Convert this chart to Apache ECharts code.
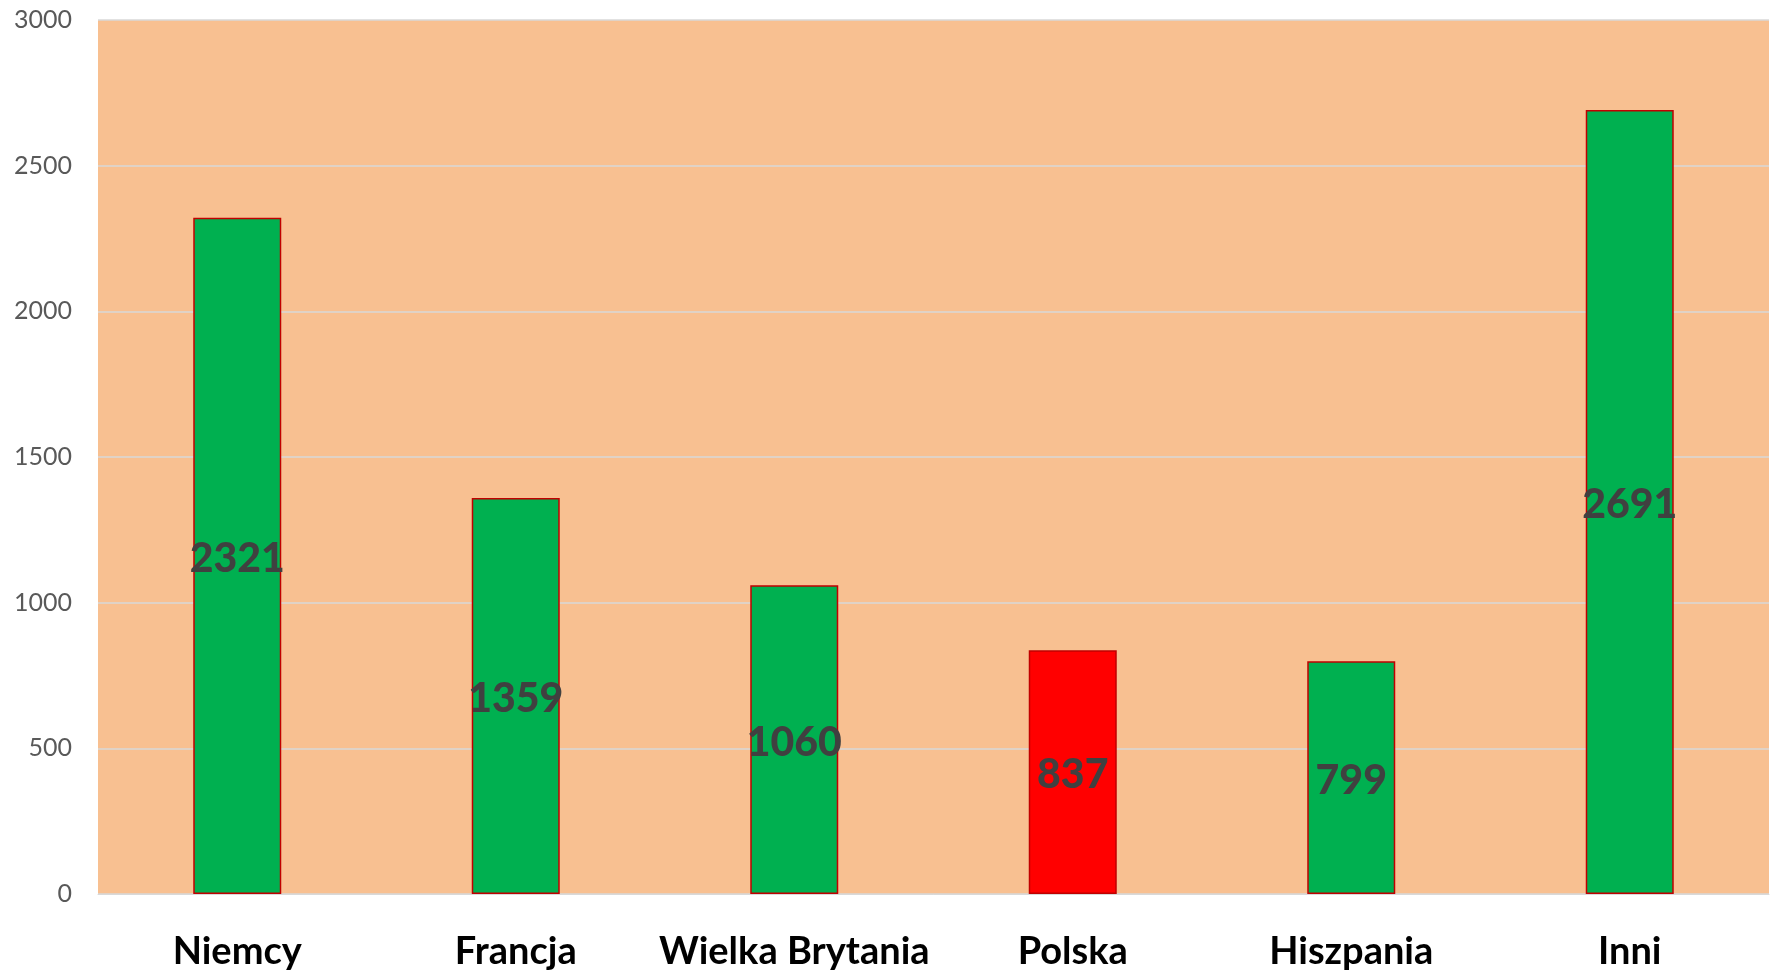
<!DOCTYPE html>
<html>
<head>
<meta charset="utf-8">
<script src="https://cdn.jsdelivr.net/npm/echarts@6/dist/echarts.min.js"></script>
<style>
  html, body { margin: 0; padding: 0; background: #fff; }
  #chart { width: 1771px; height: 971px; }
</style>
</head>
<body>
<div id="chart"></div>
<script>
const countries = ['Niemcy', 'Francja', 'Wielka Brytania', 'Polska', 'Hiszpania', 'Inni'];
const values = [2321, 1359, 1060, 837, 799, 2691];
const barColors = ['#00B050', '#00B050', '#00B050', '#FF0000', '#00B050', '#00B050'];
const yTicks = [0, 500, 1000, 1500, 2000, 2500, 3000];

const chart = echarts.init(document.getElementById('chart'));

const option = {
    animation: false,
    grid: {
        left: 98,
        right: 2,
        top: 20,
        bottom: 75,
        show: true,
        backgroundColor: '#F8C091',
        borderWidth: 0
    },
    xAxis: {
        type: 'category',
        data: countries,
        axisLine: { lineStyle: { color: '#D9D9D9', width: 1 } },
        axisTick: { show: false },
        axisLabel: {
            interval: 0,
            margin: 39,
            fontFamily: 'Lato',
            fontWeight: 'bold',
            fontSize: 38,
            color: '#000000'
        }
    },
    yAxis: {
        type: 'value',
        min: yTicks[0],
        max: yTicks[yTicks.length - 1],
        interval: 500,
        axisLine: { show: false },
        axisTick: { show: false },
        splitLine: { lineStyle: { color: '#D9D9D9', width: 1.5 } },
        axisLabel: {
            margin: 26,
            fontFamily: 'Lato',
            fontSize: 25,
            color: '#595959',
            formatter: function (v) { return String(v); }
        }
    },
    series: [{
        type: 'bar',
        barWidth: '31.6%',
        data: values.map(function (v, i) {
            return { value: v, itemStyle: { color: barColors[i] } };
        }),
        itemStyle: {
            borderColor: '#C00000',
            borderWidth: 1.5
        },
        label: {
            show: true,
            position: 'inside',
            offset: [0, 3],
            fontFamily: 'Lato',
            fontWeight: 900,
            fontSize: 41,
            color: '#404040'
        }
    }]
};

chart.setOption(option);
</script>
</body>
</html>
